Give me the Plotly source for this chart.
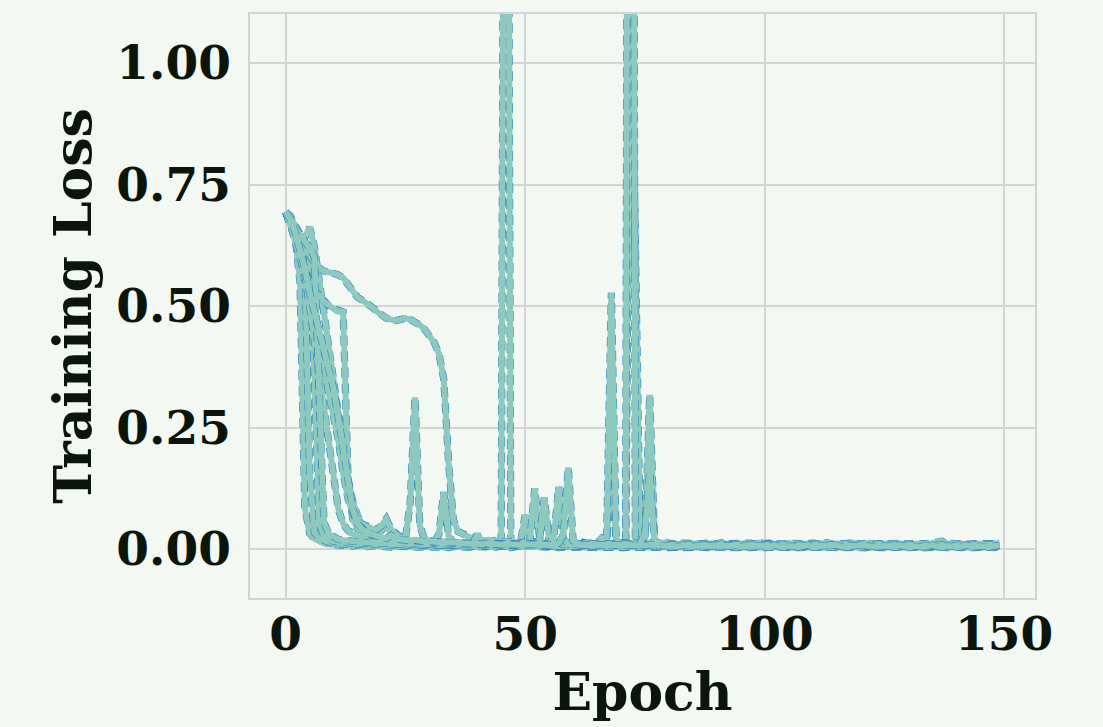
import plotly.graph_objects as go

epochs = list(range(150))

run_01 = [
    0.693, 0.676, 0.642, 0.548, 0.085, 0.032, 0.021, 0.016, 0.012, 0.010,
    0.009, 0.008, 0.010, 0.007, 0.006, 0.008, 0.006, 0.005, 0.007, 0.006,
    0.005, 0.006, 0.004, 0.006, 0.005, 0.004, 0.006, 0.005, 0.004, 0.005,
    0.004, 0.006, 0.005, 0.004, 0.003, 0.005, 0.004, 0.006, 0.004, 0.003,
    0.005, 0.004, 0.003, 0.005, 0.004, 0.006, 0.004, 0.003, 0.005, 0.012,
    0.070, 0.011, 0.005, 0.004, 0.003, 0.005, 0.004, 0.003, 0.004, 0.005,
    0.003, 0.004, 0.003, 0.005, 0.004, 0.003, 0.004, 0.003, 0.005, 0.004,
    0.003, 0.004, 0.003, 0.005, 0.004, 0.003, 0.004, 0.005, 0.003, 0.004,
    0.003, 0.005, 0.004, 0.003, 0.004, 0.003, 0.005, 0.004, 0.003, 0.004,
    0.003, 0.004, 0.005, 0.003, 0.004, 0.003, 0.004, 0.003, 0.005, 0.004,
    0.003, 0.004, 0.003, 0.004, 0.005, 0.003, 0.004, 0.003, 0.004, 0.003,
    0.005, 0.004, 0.003, 0.004, 0.003, 0.004, 0.005, 0.003, 0.004, 0.003,
    0.004, 0.003, 0.005, 0.004, 0.003, 0.004, 0.003, 0.004, 0.005, 0.003,
    0.004, 0.003, 0.004, 0.003, 0.005, 0.004, 0.003, 0.004, 0.003, 0.004,
    0.005, 0.003, 0.004, 0.003, 0.004, 0.003, 0.004, 0.005, 0.003, 0.004,
]

run_02 = [
    0.693, 0.670, 0.646, 0.622, 0.598, 0.160, 0.034, 0.022, 0.017, 0.014,
    0.012, 0.011, 0.013, 0.010, 0.009, 0.011, 0.009, 0.008, 0.010, 0.009,
    0.008, 0.010, 0.008, 0.007, 0.009, 0.008, 0.007, 0.009, 0.008, 0.007,
    0.008, 0.009, 0.007, 0.008, 0.006, 0.008, 0.007, 0.009, 0.007, 0.006,
    0.008, 0.007, 0.006, 0.008, 0.007, 0.006, 0.008, 0.007, 0.006, 0.007,
    0.008, 0.006, 0.007, 0.009, 0.006, 0.007, 0.006, 0.008, 0.007, 0.006,
    0.007, 0.008, 0.006, 0.007, 0.006, 0.008, 0.007, 0.006, 0.008, 0.007,
    0.006, 0.012, 1.250, 0.620, 0.018, 0.009, 0.007, 0.006, 0.008, 0.006,
    0.007, 0.005, 0.006, 0.008, 0.005, 0.006, 0.007, 0.005, 0.006, 0.005,
    0.007, 0.006, 0.005, 0.006, 0.008, 0.005, 0.006, 0.005, 0.007, 0.006,
    0.005, 0.006, 0.007, 0.005, 0.006, 0.005, 0.007, 0.006, 0.005, 0.006,
    0.007, 0.005, 0.006, 0.005, 0.006, 0.008, 0.005, 0.006, 0.005, 0.007,
    0.006, 0.005, 0.006, 0.007, 0.005, 0.006, 0.005, 0.006, 0.007, 0.005,
    0.006, 0.005, 0.007, 0.006, 0.005, 0.006, 0.005, 0.007, 0.006, 0.005,
    0.006, 0.007, 0.005, 0.006, 0.005, 0.006, 0.007, 0.005, 0.006, 0.007,
]

run_03 = [
    0.693, 0.681, 0.662, 0.641, 0.622, 0.603, 0.360, 0.052, 0.026, 0.019,
    0.016, 0.014, 0.015, 0.013, 0.012, 0.013, 0.011, 0.012, 0.010, 0.011,
    0.010, 0.012, 0.009, 0.011, 0.010, 0.009, 0.011, 0.010, 0.009, 0.010,
    0.011, 0.009, 0.010, 0.008, 0.010, 0.009, 0.008, 0.010, 0.009, 0.008,
    0.010, 0.009, 0.008, 0.009, 0.008, 0.010, 3.000, 0.012, 0.009, 0.008,
    0.009, 0.008, 0.010, 0.008, 0.009, 0.007, 0.008, 0.009, 0.007, 0.008,
    0.009, 0.007, 0.008, 0.007, 0.009, 0.008, 0.007, 0.010, 0.200, 0.009,
    0.008, 0.007, 0.009, 0.008, 0.007, 0.008, 0.009, 0.007, 0.008, 0.007,
    0.008, 0.006, 0.007, 0.009, 0.006, 0.007, 0.008, 0.006, 0.007, 0.008,
    0.006, 0.007, 0.006, 0.008, 0.007, 0.006, 0.007, 0.009, 0.006, 0.007,
    0.008, 0.006, 0.007, 0.006, 0.008, 0.007, 0.006, 0.007, 0.006, 0.008,
    0.007, 0.006, 0.008, 0.007, 0.006, 0.007, 0.006, 0.008, 0.007, 0.006,
    0.007, 0.008, 0.006, 0.007, 0.006, 0.007, 0.008, 0.006, 0.007, 0.006,
    0.008, 0.007, 0.006, 0.007, 0.006, 0.008, 0.007, 0.006, 0.007, 0.008,
    0.006, 0.007, 0.006, 0.008, 0.007, 0.006, 0.007, 0.006, 0.008, 0.007,
]

run_04 = [
    0.693, 0.676, 0.652, 0.633, 0.641, 0.662, 0.622, 0.552, 0.480, 0.405,
    0.338, 0.270, 0.203, 0.142, 0.098, 0.068, 0.050, 0.041, 0.036, 0.031,
    0.038, 0.055, 0.030, 0.022, 0.018, 0.016, 0.015, 0.014, 0.016, 0.013,
    0.014, 0.012, 0.013, 0.011, 0.012, 0.013, 0.011, 0.012, 0.010, 0.011,
    0.012, 0.010, 0.011, 0.010, 0.012, 0.011, 0.010, 0.012, 0.011, 0.010,
    0.011, 0.012, 0.010, 0.011, 0.010, 0.012, 0.011, 0.010, 0.011, 0.012,
    0.010, 0.011, 0.012, 0.010, 0.011, 0.010, 0.018, 0.011, 0.010, 0.012,
    0.011, 0.012, 5.000, 0.014, 0.011, 0.010, 0.012, 0.011, 0.010, 0.011,
    0.009, 0.010, 0.008, 0.011, 0.009, 0.008, 0.010, 0.009, 0.011, 0.008,
    0.009, 0.010, 0.008, 0.009, 0.011, 0.008, 0.009, 0.010, 0.008, 0.009,
    0.010, 0.012, 0.008, 0.009, 0.010, 0.008, 0.009, 0.011, 0.008, 0.009,
    0.010, 0.008, 0.009, 0.011, 0.008, 0.009, 0.010, 0.008, 0.012, 0.009,
    0.008, 0.010, 0.009, 0.008, 0.011, 0.009, 0.008, 0.010, 0.009, 0.008,
    0.010, 0.009, 0.008, 0.011, 0.009, 0.008, 0.010, 0.009, 0.008, 0.010,
    0.009, 0.008, 0.011, 0.009, 0.008, 0.010, 0.009, 0.008, 0.010, 0.011,
]

run_05 = [
    0.693, 0.668, 0.638, 0.602, 0.571, 0.551, 0.533, 0.520, 0.509, 0.500,
    0.494, 0.490, 0.488, 0.150, 0.062, 0.042, 0.034, 0.030, 0.027, 0.024,
    0.022, 0.020, 0.018, 0.016, 0.015, 0.014, 0.012, 0.013, 0.011, 0.010,
    0.009, 0.010, 0.008, 0.009, 0.007, 0.008, 0.007, 0.006, 0.008, 0.007,
    0.006, 0.007, 0.005, 0.006, 0.007, 0.005, 0.006, 0.005, 0.007, 0.006,
    0.005, 0.018, 0.125, 0.022, 0.006, 0.005, 0.006, 0.007, 0.005, 0.006,
    0.005, 0.007, 0.006, 0.005, 0.006, 0.005, 0.007, 0.006, 0.005, 0.006,
    0.005, 0.006, 0.007, 0.005, 0.006, 0.005, 0.006, 0.005, 0.007, 0.006,
    0.005, 0.006, 0.004, 0.005, 0.007, 0.005, 0.004, 0.006, 0.005, 0.004,
    0.006, 0.005, 0.004, 0.005, 0.006, 0.004, 0.005, 0.007, 0.005, 0.004,
    0.005, 0.006, 0.004, 0.005, 0.004, 0.006, 0.005, 0.004, 0.005, 0.006,
    0.004, 0.005, 0.006, 0.004, 0.005, 0.004, 0.006, 0.005, 0.004, 0.005,
    0.006, 0.004, 0.005, 0.004, 0.006, 0.005, 0.004, 0.005, 0.006, 0.004,
    0.005, 0.004, 0.006, 0.005, 0.004, 0.005, 0.006, 0.004, 0.005, 0.004,
    0.006, 0.005, 0.004, 0.005, 0.006, 0.004, 0.005, 0.004, 0.006, 0.005,
]

run_06 = [
    0.693, 0.682, 0.664, 0.643, 0.624, 0.605, 0.590, 0.578, 0.572, 0.570,
    0.568, 0.564, 0.558, 0.543, 0.528, 0.518, 0.512, 0.506, 0.498, 0.489,
    0.480, 0.475, 0.472, 0.470, 0.472, 0.475, 0.472, 0.467, 0.461, 0.452,
    0.440, 0.425, 0.402, 0.350, 0.180, 0.060, 0.036, 0.030, 0.026, 0.022,
    0.024, 0.019, 0.017, 0.016, 0.018, 0.015, 0.016, 0.014, 0.015, 0.013,
    0.014, 0.013, 0.015, 0.012, 0.014, 0.013, 0.012, 0.014, 0.013, 0.012,
    0.013, 0.012, 0.014, 0.012, 0.013, 0.012, 0.022, 0.014, 0.527, 0.016,
    0.013, 0.012, 0.014, 0.013, 0.012, 0.013, 0.012, 0.014, 0.012, 0.013,
    0.011, 0.012, 0.010, 0.012, 0.011, 0.013, 0.010, 0.011, 0.012, 0.010,
    0.011, 0.013, 0.010, 0.011, 0.012, 0.010, 0.011, 0.012, 0.010, 0.013,
    0.011, 0.010, 0.012, 0.011, 0.010, 0.012, 0.011, 0.013, 0.010, 0.011,
    0.012, 0.010, 0.011, 0.013, 0.010, 0.011, 0.012, 0.010, 0.011, 0.012,
    0.010, 0.011, 0.013, 0.010, 0.011, 0.012, 0.010, 0.011, 0.012, 0.010,
    0.011, 0.012, 0.010, 0.011, 0.010, 0.012, 0.011, 0.016, 0.012, 0.011,
    0.010, 0.012, 0.011, 0.010, 0.011, 0.012, 0.010, 0.011, 0.010, 0.012,
]

run_07 = [
    0.693, 0.671, 0.641, 0.603, 0.552, 0.502, 0.452, 0.404, 0.362, 0.320,
    0.278, 0.224, 0.156, 0.104, 0.074, 0.058, 0.051, 0.046, 0.042, 0.040,
    0.048, 0.062, 0.041, 0.031, 0.024, 0.021, 0.095, 0.312, 0.048, 0.020,
    0.016, 0.015, 0.018, 0.014, 0.013, 0.012, 0.014, 0.011, 0.012, 0.010,
    0.011, 0.009, 0.010, 0.008, 0.009, 0.008, 0.009, 0.007, 0.008, 0.007,
    0.008, 0.007, 0.006, 0.007, 0.006, 0.008, 0.006, 0.007, 0.006, 0.005,
    0.006, 0.005, 0.007, 0.005, 0.006, 0.005, 0.006, 0.004, 0.005, 0.006,
    0.005, 0.004, 0.006, 0.005, 0.004, 0.018, 0.317, 0.020, 0.005, 0.004,
    0.005, 0.003, 0.004, 0.005, 0.003, 0.004, 0.003, 0.005, 0.004, 0.003,
    0.004, 0.003, 0.005, 0.004, 0.003, 0.004, 0.005, 0.003, 0.004, 0.003,
    0.005, 0.004, 0.003, 0.004, 0.003, 0.005, 0.004, 0.003, 0.004, 0.005,
    0.003, 0.004, 0.003, 0.005, 0.004, 0.003, 0.004, 0.003, 0.005, 0.004,
    0.003, 0.004, 0.005, 0.003, 0.004, 0.003, 0.004, 0.005, 0.003, 0.004,
    0.003, 0.005, 0.004, 0.003, 0.004, 0.003, 0.005, 0.004, 0.003, 0.004,
    0.005, 0.003, 0.004, 0.003, 0.004, 0.005, 0.003, 0.004, 0.003, 0.005,
]

run_08 = [
    0.693, 0.668, 0.632, 0.598, 0.566, 0.500, 0.425, 0.352, 0.298, 0.222,
    0.150, 0.082, 0.052, 0.038, 0.031, 0.027, 0.024, 0.022, 0.020, 0.019,
    0.018, 0.017, 0.019, 0.016, 0.015, 0.017, 0.015, 0.014, 0.016, 0.014,
    0.013, 0.015, 0.030, 0.117, 0.028, 0.013, 0.012, 0.014, 0.012, 0.011,
    0.013, 0.011, 0.010, 0.012, 0.011, 0.010, 0.012, 0.010, 0.011, 0.009,
    0.010, 0.011, 0.009, 0.020, 0.105, 0.018, 0.009, 0.010, 0.008, 0.009,
    0.010, 0.008, 0.009, 0.010, 0.008, 0.009, 0.008, 0.010, 0.009, 0.008,
    0.009, 0.008, 0.010, 0.009, 0.008, 0.009, 0.010, 0.008, 0.009, 0.008,
    0.007, 0.009, 0.006, 0.008, 0.007, 0.006, 0.008, 0.007, 0.006, 0.009,
    0.007, 0.006, 0.008, 0.007, 0.006, 0.007, 0.009, 0.006, 0.007, 0.008,
    0.006, 0.007, 0.008, 0.006, 0.009, 0.007, 0.006, 0.008, 0.007, 0.006,
    0.008, 0.007, 0.006, 0.007, 0.009, 0.006, 0.007, 0.008, 0.006, 0.007,
    0.008, 0.006, 0.007, 0.009, 0.006, 0.007, 0.008, 0.006, 0.007, 0.006,
    0.009, 0.007, 0.006, 0.008, 0.007, 0.006, 0.007, 0.008, 0.006, 0.007,
    0.008, 0.006, 0.007, 0.006, 0.009, 0.007, 0.006, 0.008, 0.007, 0.006,
]

run_09 = [
    0.693, 0.685, 0.664, 0.645, 0.633, 0.620, 0.601, 0.310, 0.055, 0.031,
    0.024, 0.020, 0.018, 0.017, 0.015, 0.016, 0.014, 0.013, 0.015, 0.012,
    0.013, 0.012, 0.011, 0.013, 0.010, 0.012, 0.011, 0.010, 0.012, 0.011,
    0.010, 0.012, 0.011, 0.010, 0.012, 0.010, 0.011, 0.010, 0.012, 0.011,
    0.030, 0.012, 0.010, 0.011, 0.010, 0.012, 0.011, 0.010, 0.011, 0.010,
    0.012, 0.010, 0.011, 0.010, 0.012, 0.011, 0.025, 0.128, 0.020, 0.011,
    0.010, 0.011, 0.010, 0.012, 0.011, 0.010, 0.011, 0.012, 0.010, 0.011,
    0.010, 0.012, 0.011, 0.010, 0.012, 0.030, 0.160, 0.015, 0.011, 0.010,
    0.009, 0.008, 0.010, 0.007, 0.009, 0.008, 0.011, 0.008, 0.009, 0.007,
    0.008, 0.010, 0.007, 0.009, 0.008, 0.007, 0.009, 0.008, 0.010, 0.007,
    0.009, 0.008, 0.007, 0.010, 0.008, 0.009, 0.007, 0.008, 0.009, 0.007,
    0.008, 0.010, 0.007, 0.008, 0.009, 0.007, 0.008, 0.010, 0.007, 0.009,
    0.008, 0.007, 0.009, 0.008, 0.010, 0.007, 0.008, 0.009, 0.007, 0.008,
    0.010, 0.008, 0.007, 0.009, 0.008, 0.007, 0.009, 0.010, 0.008, 0.007,
    0.009, 0.008, 0.007, 0.010, 0.008, 0.009, 0.007, 0.008, 0.009, 0.010,
]

run_10 = [
    0.693, 0.679, 0.651, 0.618, 0.578, 0.528, 0.488, 0.452, 0.418, 0.380,
    0.330, 0.270, 0.200, 0.130, 0.082, 0.052, 0.040, 0.033, 0.029, 0.026,
    0.024, 0.022, 0.028, 0.021, 0.019, 0.018, 0.017, 0.019, 0.016, 0.015,
    0.016, 0.014, 0.015, 0.013, 0.014, 0.012, 0.013, 0.012, 0.011, 0.012,
    0.011, 0.010, 0.012, 0.010, 0.011, 0.009, 0.010, 0.009, 0.011, 0.009,
    0.010, 0.009, 0.008, 0.010, 0.009, 0.008, 0.010, 0.012, 0.030, 0.168,
    0.018, 0.009, 0.008, 0.009, 0.008, 0.010, 0.009, 0.008, 0.009, 0.008,
    0.009, 0.008, 0.007, 0.009, 0.008, 0.007, 0.009, 0.008, 0.007, 0.008,
    0.006, 0.007, 0.005, 0.008, 0.006, 0.005, 0.007, 0.006, 0.008, 0.005,
    0.006, 0.007, 0.005, 0.006, 0.008, 0.005, 0.006, 0.007, 0.005, 0.006,
    0.007, 0.005, 0.008, 0.006, 0.005, 0.007, 0.006, 0.005, 0.006, 0.008,
    0.005, 0.006, 0.007, 0.005, 0.006, 0.008, 0.005, 0.006, 0.007, 0.005,
    0.006, 0.008, 0.005, 0.006, 0.007, 0.005, 0.006, 0.005, 0.008, 0.006,
    0.005, 0.007, 0.006, 0.005, 0.006, 0.008, 0.005, 0.006, 0.007, 0.005,
    0.006, 0.005, 0.008, 0.006, 0.005, 0.007, 0.006, 0.005, 0.006, 0.008,
]

runs = [run_01, run_02, run_03, run_04, run_05,
        run_06, run_07, run_08, run_09, run_10]

x_ticks = [0, 50, 100, 150]
y_ticks = [0.00, 0.25, 0.50, 0.75, 1.00]
y_tick_labels = ["0.00", "0.25", "0.50", "0.75", "1.00"]

BG = "#f4f8f3"
GRID = "#d4d4d6"
TEXT = "#0b150b"
TEAL = "#8ec9bf"
BLUE = "#2e86c1"
FONT = "DejaVu Serif"

fig = go.Figure()
for r in runs:
    fig.add_trace(go.Scatter(
        x=epochs, y=r, mode="lines",
        line=dict(color=BLUE, width=7.2, dash="10px,6px"),
        hoverinfo="skip", showlegend=False,
    ))
    fig.add_trace(go.Scatter(
        x=epochs, y=r, mode="lines",
        line=dict(color=TEAL, width=6),
        hoverinfo="skip", showlegend=False,
    ))

fig.update_layout(
    width=1103, height=727,
    margin=dict(l=250, r=68, t=14, b=129),
    paper_bgcolor=BG, plot_bgcolor=BG,
    font=dict(family=FONT, color=TEXT, size=47, weight="bold"),
    showlegend=False,
)
fig.update_xaxes(
    range=[-7.45, 156.45], automargin=False,
    tickvals=x_ticks, ticktext=[str(v) for v in x_ticks],
    tickfont=dict(family=FONT, size=47, color=TEXT, weight="bold"),
    showgrid=True, gridcolor=GRID, gridwidth=1.5,
    showline=True, linecolor=GRID, linewidth=1.5, mirror=True,
    zeroline=False, ticks="", ticklabelstandoff=-6,
    title=dict(text="Epoch", standoff=10,
               font=dict(family=FONT, size=52, color=TEXT, weight="bold")),
)
fig.update_yaxes(
    range=[-0.1008, 1.1008], automargin=False,
    tickvals=y_ticks, ticktext=y_tick_labels,
    tickfont=dict(family=FONT, size=47, color=TEXT, weight="bold"),
    showgrid=True, gridcolor=GRID, gridwidth=1.5,
    showline=True, linecolor=GRID, linewidth=1.5, mirror=True,
    zeroline=False, ticks="", ticklabelstandoff=8,
    title=dict(text="Training Loss", standoff=8,
               font=dict(family=FONT, size=52, color=TEXT, weight="bold")),
)

fig.write_html("out.html")
